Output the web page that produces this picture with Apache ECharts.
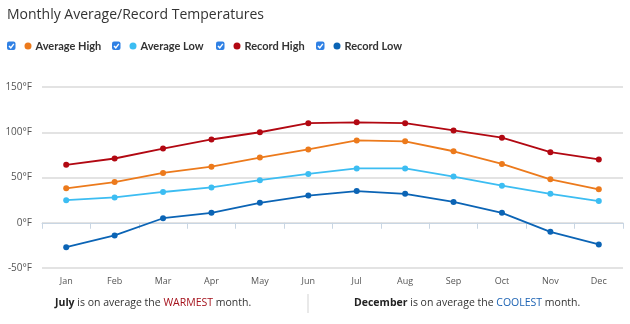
<!DOCTYPE html>
<html>
<head>
<meta charset="utf-8">
<script src="https://cdn.jsdelivr.net/npm/echarts@6/dist/echarts.min.js"></script>
<style>
html,body{margin:0;padding:0;background:#fff;}
#c{width:630px;height:324px;}
</style>
</head>
<body>
<div id="c"></div>
<script>
const months = ['Jan','Feb','Mar','Apr','May','Jun','Jul','Aug','Sep','Oct','Nov','Dec'];
const averageHigh = [38, 45, 55, 62, 72, 81, 91, 90, 79, 65, 48, 37];
const averageLow  = [25, 28, 34, 39, 47, 54, 60, 60, 51, 41, 32, 24];
const recordHigh  = [64, 71, 82, 92, 100, 110, 111, 110, 102, 94, 78, 70];
const recordLow   = [-27, -14, 5, 11, 22, 30, 35, 32, 23, 11, -10, -24];
const yTicks = { min: -50, max: 150, step: 50 };

const seriesDefs = [
  { name: 'Average High', data: averageHigh, color: '#ec7a1c', dot: 28 },
  { name: 'Average Low',  data: averageLow,  color: '#3cbdf2', dot: 133 },
  { name: 'Record High',  data: recordHigh,  color: '#b20812', dot: 237 },
  { name: 'Record Low',   data: recordLow,   color: '#0b64b5', dot: 337 }
];

const FONT = '"Open Sans", sans-serif';
const chart = echarts.init(document.getElementById('c'), null, { renderer: 'canvas' });

function checkbox(x, y) {
  return [
    { type: 'rect', shape: { x: x, y: y, width: 8.5, height: 8.5, r: 2 }, style: { fill: '#2f80e4' } },
    { type: 'polyline', shape: { points: [[x + 2, y + 4.4], [x + 3.8, y + 6.3], [x + 6.8, y + 2.3]] },
      style: { stroke: '#fff', lineWidth: 1.4, fill: null } }
  ];
}

let graphics = [];
seriesDefs.forEach(s => { graphics = graphics.concat(checkbox(s.dot - 21, 41.5)); });
const footFont = 10.5;
graphics.push({
  type: 'text', left: 55, top: 298,
  style: {
    text: '{b|July} is on average the {w|WARMEST} month.',
    fontSize: footFont, fontFamily: FONT, fill: '#333',
    rich: {
      b: { fontWeight: 'bold', fontFamily: FONT, fontSize: footFont, fill: '#222' },
      w: { fill: '#a5121c', fontFamily: FONT, fontSize: footFont }
    }
  }
});
graphics.push({ type: 'line', shape: { x1: 308, y1: 294, x2: 308, y2: 313 }, style: { stroke: '#e2e2e2', lineWidth: 1.5 } });
graphics.push({
  type: 'text', left: 354, top: 298,
  style: {
    text: '{b|December} is on average the {c|COOLEST} month.',
    fontSize: footFont, fontFamily: FONT, fill: '#333',
    rich: {
      b: { fontWeight: 'bold', fontFamily: FONT, fontSize: footFont, fill: '#222' },
      c: { fill: '#1b62b3', fontFamily: FONT, fontSize: footFont }
    }
  }
});

chart.setOption({
  animation: false,
  textStyle: { fontFamily: FONT },
  title: {
    text: 'Monthly Average/Record Temperatures',
    left: 2, top: 3,
    textStyle: { fontSize: 14, fontWeight: 'normal', color: '#333', fontFamily: FONT }
  },
  legend: seriesDefs.map(s => ({
    data: [s.name],
    left: s.dot - 3.5, top: 40.5, padding: 0,
    icon: 'circle', itemWidth: 7, itemHeight: 7, itemGap: 0,
    textStyle: { fontSize: 11, fontWeight: 'bold', color: '#333', fontFamily: 'Lato, sans-serif', padding: [0, 0, 0, -1] },
    selectedMode: false
  })),
  grid: { left: 42, right: 7, top: 87, bottom: 56 },
  xAxis: {
    type: 'category', data: months, boundaryGap: true,
    axisLine: { lineStyle: { color: '#c9d6e3', width: 1 } },
    axisTick: { show: true, length: 6, lineStyle: { color: '#c9d6e3' } },
    axisLabel: { fontSize: 9, color: '#555', margin: 9 }
  },
  yAxis: {
    type: 'value', min: yTicks.min, max: yTicks.max, interval: yTicks.step,
    axisLine: { show: false }, axisTick: { show: false },
    axisLabel: { formatter: '{value}°F', fontSize: 10, color: '#555', margin: 10 },
    splitLine: { lineStyle: { color: '#dadada', width: 1.5 } }
  },
  series: seriesDefs.map(s => ({
    name: s.name, type: 'line', data: s.data,
    symbol: 'circle', symbolSize: 6,
    itemStyle: { color: s.color },
    lineStyle: { color: s.color, width: 1.8 }
  })),
  graphic: graphics
});
</script>
</body>
</html>
